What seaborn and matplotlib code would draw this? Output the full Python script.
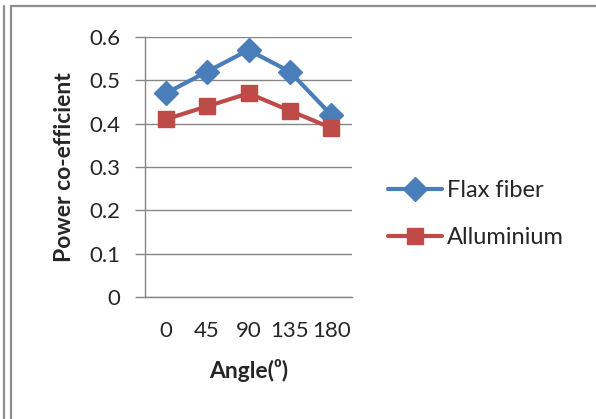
import matplotlib
matplotlib.use("Agg")
import matplotlib.pyplot as plt
from matplotlib.lines import Line2D
import pandas as pd
import seaborn as sns

# Power coefficient of the rotor at each blade angle, for two blade materials
angles = ["0", "45", "90", "135", "180"]
flax_fiber = [0.47, 0.52, 0.57, 0.52, 0.42]
alluminium = [0.41, 0.44, 0.47, 0.43, 0.39]
series_names = ["Flax fiber", "Alluminium"]
y_ticks = [0, 0.1, 0.2, 0.3, 0.4, 0.5, 0.6]

df = pd.DataFrame({
    "Angle": angles * 2,
    "Power": flax_fiber + alluminium,
    "Material": [series_names[0]] * len(angles) + [series_names[1]] * len(angles),
})

sns.set_style("white")
plt.rcParams["font.family"] = ["Lato", "DejaVu Sans"]

GRID = "#878787"
fig = plt.figure(figsize=(5.96, 4.19), dpi=100)
ax = fig.add_axes([145 / 596, 1 - 297 / 419, 207 / 596, 260 / 419])

sns.lineplot(
    data=df, x="Angle", y="Power", hue="Material", style="Material",
    palette={"Flax fiber": "#4A7EBB", "Alluminium": "#BE4B48"},
    markers={"Flax fiber": "D", "Alluminium": "s"}, dashes=False,
    linewidth=3.0, markersize=12, markeredgewidth=1,
    sort=False, ax=ax,
)
for line in ax.lines:
    line.set_markeredgecolor(line.get_color())

ax.set_xlim(-0.5, len(angles) - 0.5)
ax.set_ylim(0, 0.6)
ax.set_yticks(y_ticks)
ax.set_yticklabels([f"{t:g}" for t in y_ticks])
ax.grid(axis="y", color=GRID, linewidth=1.0)
ax.grid(axis="x", visible=False)
ax.set_axisbelow(True)
for side in ("top", "right"):
    ax.spines[side].set_visible(False)
for side in ("left", "bottom"):
    ax.spines[side].set_color(GRID)
    ax.spines[side].set_linewidth(1.0)

ax.tick_params(axis="y", direction="out", length=7, width=1.0, color=GRID,
               labelsize=16, pad=11, left=True)
ax.tick_params(axis="x", length=0, labelsize=16, pad=17)

ax.set_xlabel("Angle(⁰)", fontsize=16.5, fontweight="bold", labelpad=13)
ax.set_ylabel("Power co-efficient", fontsize=16.5, fontweight="bold", labelpad=10)

handles, labels = ax.get_legend_handles_labels()
ax.get_legend().remove()
fig.legend(handles, labels, loc="center left",
           bbox_to_anchor=(388 / 596, 1 - 214 / 419), frameon=False,
           fontsize=17, handlelength=2.3, handletextpad=0.2,
           labelspacing=1.1, borderpad=0, borderaxespad=0)

# page frame lines around the chart
frame_kw = dict(color="#8E8E8E", linewidth=1.6, transform=fig.transFigure)
fig.add_artist(Line2D([4 / 596, 4 / 596], [0, 1 - 6 / 419], **frame_kw))
fig.add_artist(Line2D([10.5 / 596, 10.5 / 596], [0, 1 - 6.5 / 419], **frame_kw))
fig.add_artist(Line2D([10.5 / 596, 1], [1 - 6.5 / 419, 1 - 6.5 / 419], **frame_kw))

fig.savefig("out.png", dpi=100)
